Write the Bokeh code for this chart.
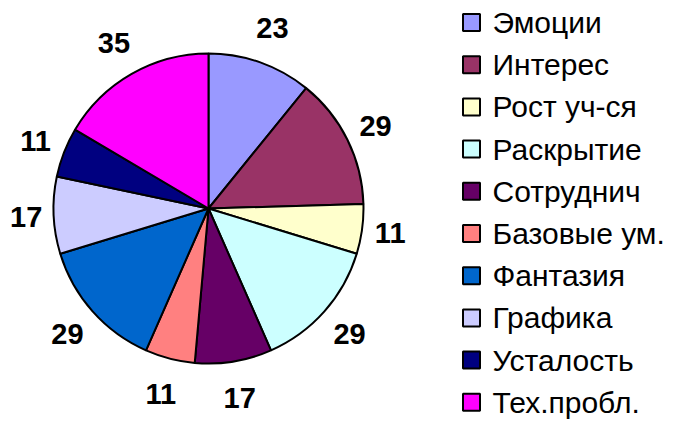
import math
from bokeh.plotting import figure
from bokeh.models import Range1d, ColumnDataSource
from bokeh.core.properties import value
from bokeh.embed import file_html
from bokeh.resources import INLINE

categories = ["Эмоции", "Интерес", "Рост уч-ся", "Раскрытие", "Сотруднич",
              "Базовые ум.", "Фантазия", "Графика", "Усталость", "Тех.пробл."]
values = [23, 29, 11, 29, 17, 11, 29, 17, 11, 35]
colors = ["#9999FF", "#993366", "#FFFFCC", "#CCFFFF", "#660066",
          "#FF8080", "#0066CC", "#CCCCFF", "#000080", "#FF00FF"]

W, H = 676, 421
# screen -> data helpers
def sx(x):
    return x
def sy(y):
    return H - y

CX, CY, R = sx(208), sy(208), 155

total = float(sum(values))
starts, ends, lx, ly = [], [], [], []
cum = 0.0
for v in values:
    a0 = math.pi / 2 - 2 * math.pi * cum / total
    a1 = math.pi / 2 - 2 * math.pi * (cum + v) / total
    mid = (a0 + a1) / 2
    starts.append(a1)
    ends.append(a0)
    rl = 182 + 10 * abs(math.sin(mid))
    lx.append(CX + rl * math.cos(mid))
    ly.append(CY + rl * math.sin(mid))
    cum += v

p = figure(width=W, height=H, output_backend="svg", toolbar_location=None,
           x_range=Range1d(0, W), y_range=Range1d(0, H),
           min_border=0, min_border_left=0, min_border_right=0,
           min_border_top=0, min_border_bottom=0)
p.axis.visible = False
p.grid.visible = False
p.outline_line_color = None
p.background_fill_color = "white"
p.border_fill_color = "white"

src = ColumnDataSource(dict(start=starts, end=ends, color=colors,
                            lx=lx, ly=ly, lab=[str(v) for v in values]))
p.wedge(x=CX, y=CY, radius=R, start_angle="start", end_angle="end",
        direction="anticlock", fill_color="color", line_color="black",
        line_width=2, source=src)
p.text(x="lx", y="ly", text="lab", source=src, text_align="center",
       text_baseline="middle", text_font=value("Liberation Sans"),
       text_font_style="bold", text_font_size="29px", text_color="black")

# legend
n = len(categories)
leg_y = [sy(22 + 42.2 * i) for i in range(n)]
leg_src = ColumnDataSource(dict(y=leg_y, color=colors, name=categories,
                                sqx=[sx(471)] * n, tx=[sx(492)] * n))
p.rect(x="sqx", y="y", width=17, height=17, fill_color="color",
       line_color="black", line_width=2, source=leg_src)
p.text(x="tx", y="y", text="name", source=leg_src, text_align="left",
       text_baseline="middle", text_font=value("Liberation Sans"),
       text_font_size="30px", text_color="black")

open("out.html", "w").write(file_html(p, INLINE))
